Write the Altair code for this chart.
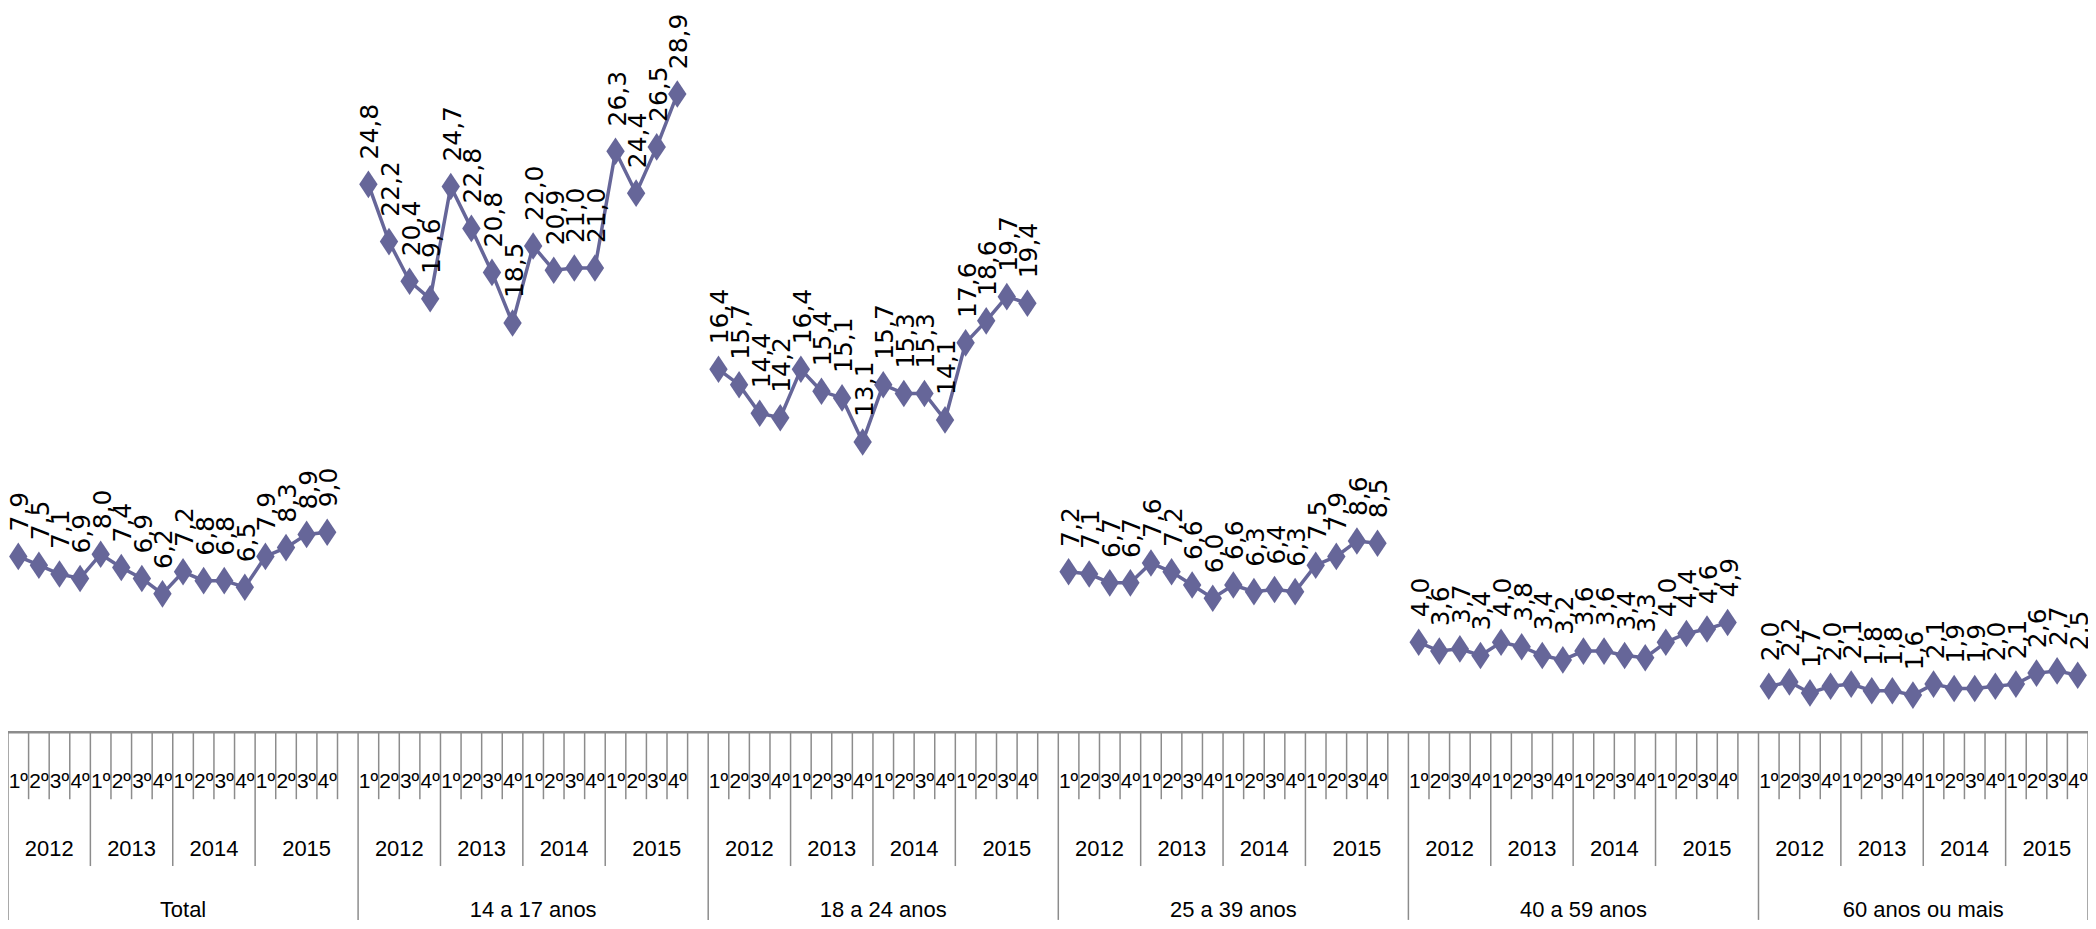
import altair as alt
import pandas as pd

groups = ["Total", "14 a 17 anos", "18 a 24 anos", "25 a 39 anos", "40 a 59 anos", "60 anos ou mais"]
years = ["2012", "2013", "2014", "2015"]
quarters = ["1º", "2º", "3º", "4º"]

total = [7.9, 7.5, 7.1, 6.9, 8.0, 7.4, 6.9, 6.2, 7.2, 6.8, 6.8, 6.5, 7.9, 8.3, 8.9, 9.0]
a14_17 = [24.8, 22.2, 20.4, 19.6, 24.7, 22.8, 20.8, 18.5, 22.0, 20.9, 21.0, 21.0, 26.3, 24.4, 26.5, 28.9]
a18_24 = [16.4, 15.7, 14.4, 14.2, 16.4, 15.4, 15.1, 13.1, 15.7, 15.3, 15.3, 14.1, 17.6, 18.6, 19.7, 19.4]
a25_39 = [7.2, 7.1, 6.7, 6.7, 7.6, 7.2, 6.6, 6.0, 6.6, 6.3, 6.4, 6.3, 7.5, 7.9, 8.6, 8.5]
a40_59 = [4.0, 3.6, 3.7, 3.4, 4.0, 3.8, 3.4, 3.2, 3.6, 3.6, 3.4, 3.3, 4.0, 4.4, 4.6, 4.9]
a60 = [2.0, 2.2, 1.7, 2.0, 2.1, 1.8, 1.8, 1.6, 2.1, 1.9, 1.9, 2.0, 2.1, 2.6, 2.7, 2.5]
series = [total, a14_17, a18_24, a25_39, a40_59, a60]

STEP = 17  # 16 quarters + one empty category between groups
NG = len(groups)
LAST = STEP * (NG - 1) + 15

rows = []
for g, (name, vals) in enumerate(zip(groups, series)):
    for i, v in enumerate(vals):
        rows.append(dict(group=name, slot=g * STEP + i, value=v,
                         label=f"{v:.1f}".replace(".", ",")))
df = pd.DataFrame(rows)

# axis table pieces (category positions)
qrows = [dict(slot=g * STEP + i, text=quarters[i % 4]) for g in range(NG) for i in range(16)]
yrows = []
for g in range(NG):
    for k, y in enumerate(years):
        if k == 3 and g < NG - 1:
            c = g * STEP + 14
        else:
            c = g * STEP + 4 * k + 1.5
        yrows.append(dict(slot=c, text=y))
grows = [dict(slot=g * STEP + (8 if g < NG - 1 else 7.5), text=groups[g]) for g in range(NG)]

short_e, year_e, full_e = [], [], [dict(e=-0.5)]
for g in range(NG):
    for i in range(17 if g < NG - 1 else 16):
        e = g * STEP + i + 0.5
        if i in (3, 7, 11):
            year_e.append(dict(e=e))
        elif i == 16 or (g == NG - 1 and i == 15):
            full_e.append(dict(e=e))
        else:
            short_e.append(dict(e=e))

W, H = 2085, 913
xs = alt.Scale(domain=[-0.5, LAST + 0.5], nice=False, zero=False)
ys = alt.Scale(domain=[-8.61, 32.76], nice=False, zero=False)
COL = "#666699"
GRID = "#8c8c8c"
AXFONT = "Liberation Sans"

base = alt.Chart(df)
line = base.mark_line(color=COL, strokeWidth=3.5).encode(
    x=alt.X("slot:Q", scale=xs, axis=None),
    y=alt.Y("value:Q", scale=ys, axis=None),
    detail="group:N",
)
pts = base.mark_point(shape="M0,-1.5L1,0L0,1.5L-1,0Z", filled=True, size=340,
                      opacity=1, color=COL).encode(
    x=alt.X("slot:Q", scale=xs, axis=None),
    y=alt.Y("value:Q", scale=ys, axis=None),
)
labels = base.mark_text(angle=270, align="left", baseline="middle", dx=25, dy=2,
                        font="DejaVu Sans", fontSize=25, color="black").encode(
    x=alt.X("slot:Q", scale=xs, axis=None),
    y=alt.Y("value:Q", scale=ys, axis=None),
    text="label:N",
)

top_rule = alt.Chart(pd.DataFrame([dict(a=-0.5, b=LAST + 0.5)])).mark_rule(
    color=GRID, strokeWidth=2.5).encode(
    x=alt.X("a:Q", scale=xs, axis=None), x2="b:Q", y=alt.value(725))

def vrules(data, y2):
    return alt.Chart(pd.DataFrame(data)).mark_rule(color=GRID, strokeWidth=1.5).encode(
        x=alt.X("e:Q", scale=xs, axis=None), y=alt.value(725), y2=alt.value(y2))

r_short = vrules(short_e, 792)
r_year = vrules(year_e, 859)
r_full = vrules(full_e, H)

def tlabels(data, y, size, baseline="middle"):
    return alt.Chart(pd.DataFrame(data)).mark_text(
        font=AXFONT, fontSize=size, color="black", baseline=baseline, align="center").encode(
        x=alt.X("slot:Q", scale=xs, axis=None), y=alt.value(y), text="text:N")

t_q = tlabels(qrows, 775, 21)
t_y = tlabels(yrows, 842, 22)
t_g = tlabels(grows, 910, 22, baseline="alphabetic")

chart = alt.layer(r_short, r_year, r_full, top_rule, t_q, t_y, t_g, line, pts, labels).properties(
    width=W, height=H, padding=0, autosize=alt.AutoSizeParams(type="none"),
).configure_view(stroke=None)

chart.save("out.html", embed_options={"renderer": "svg", "actions": False})
